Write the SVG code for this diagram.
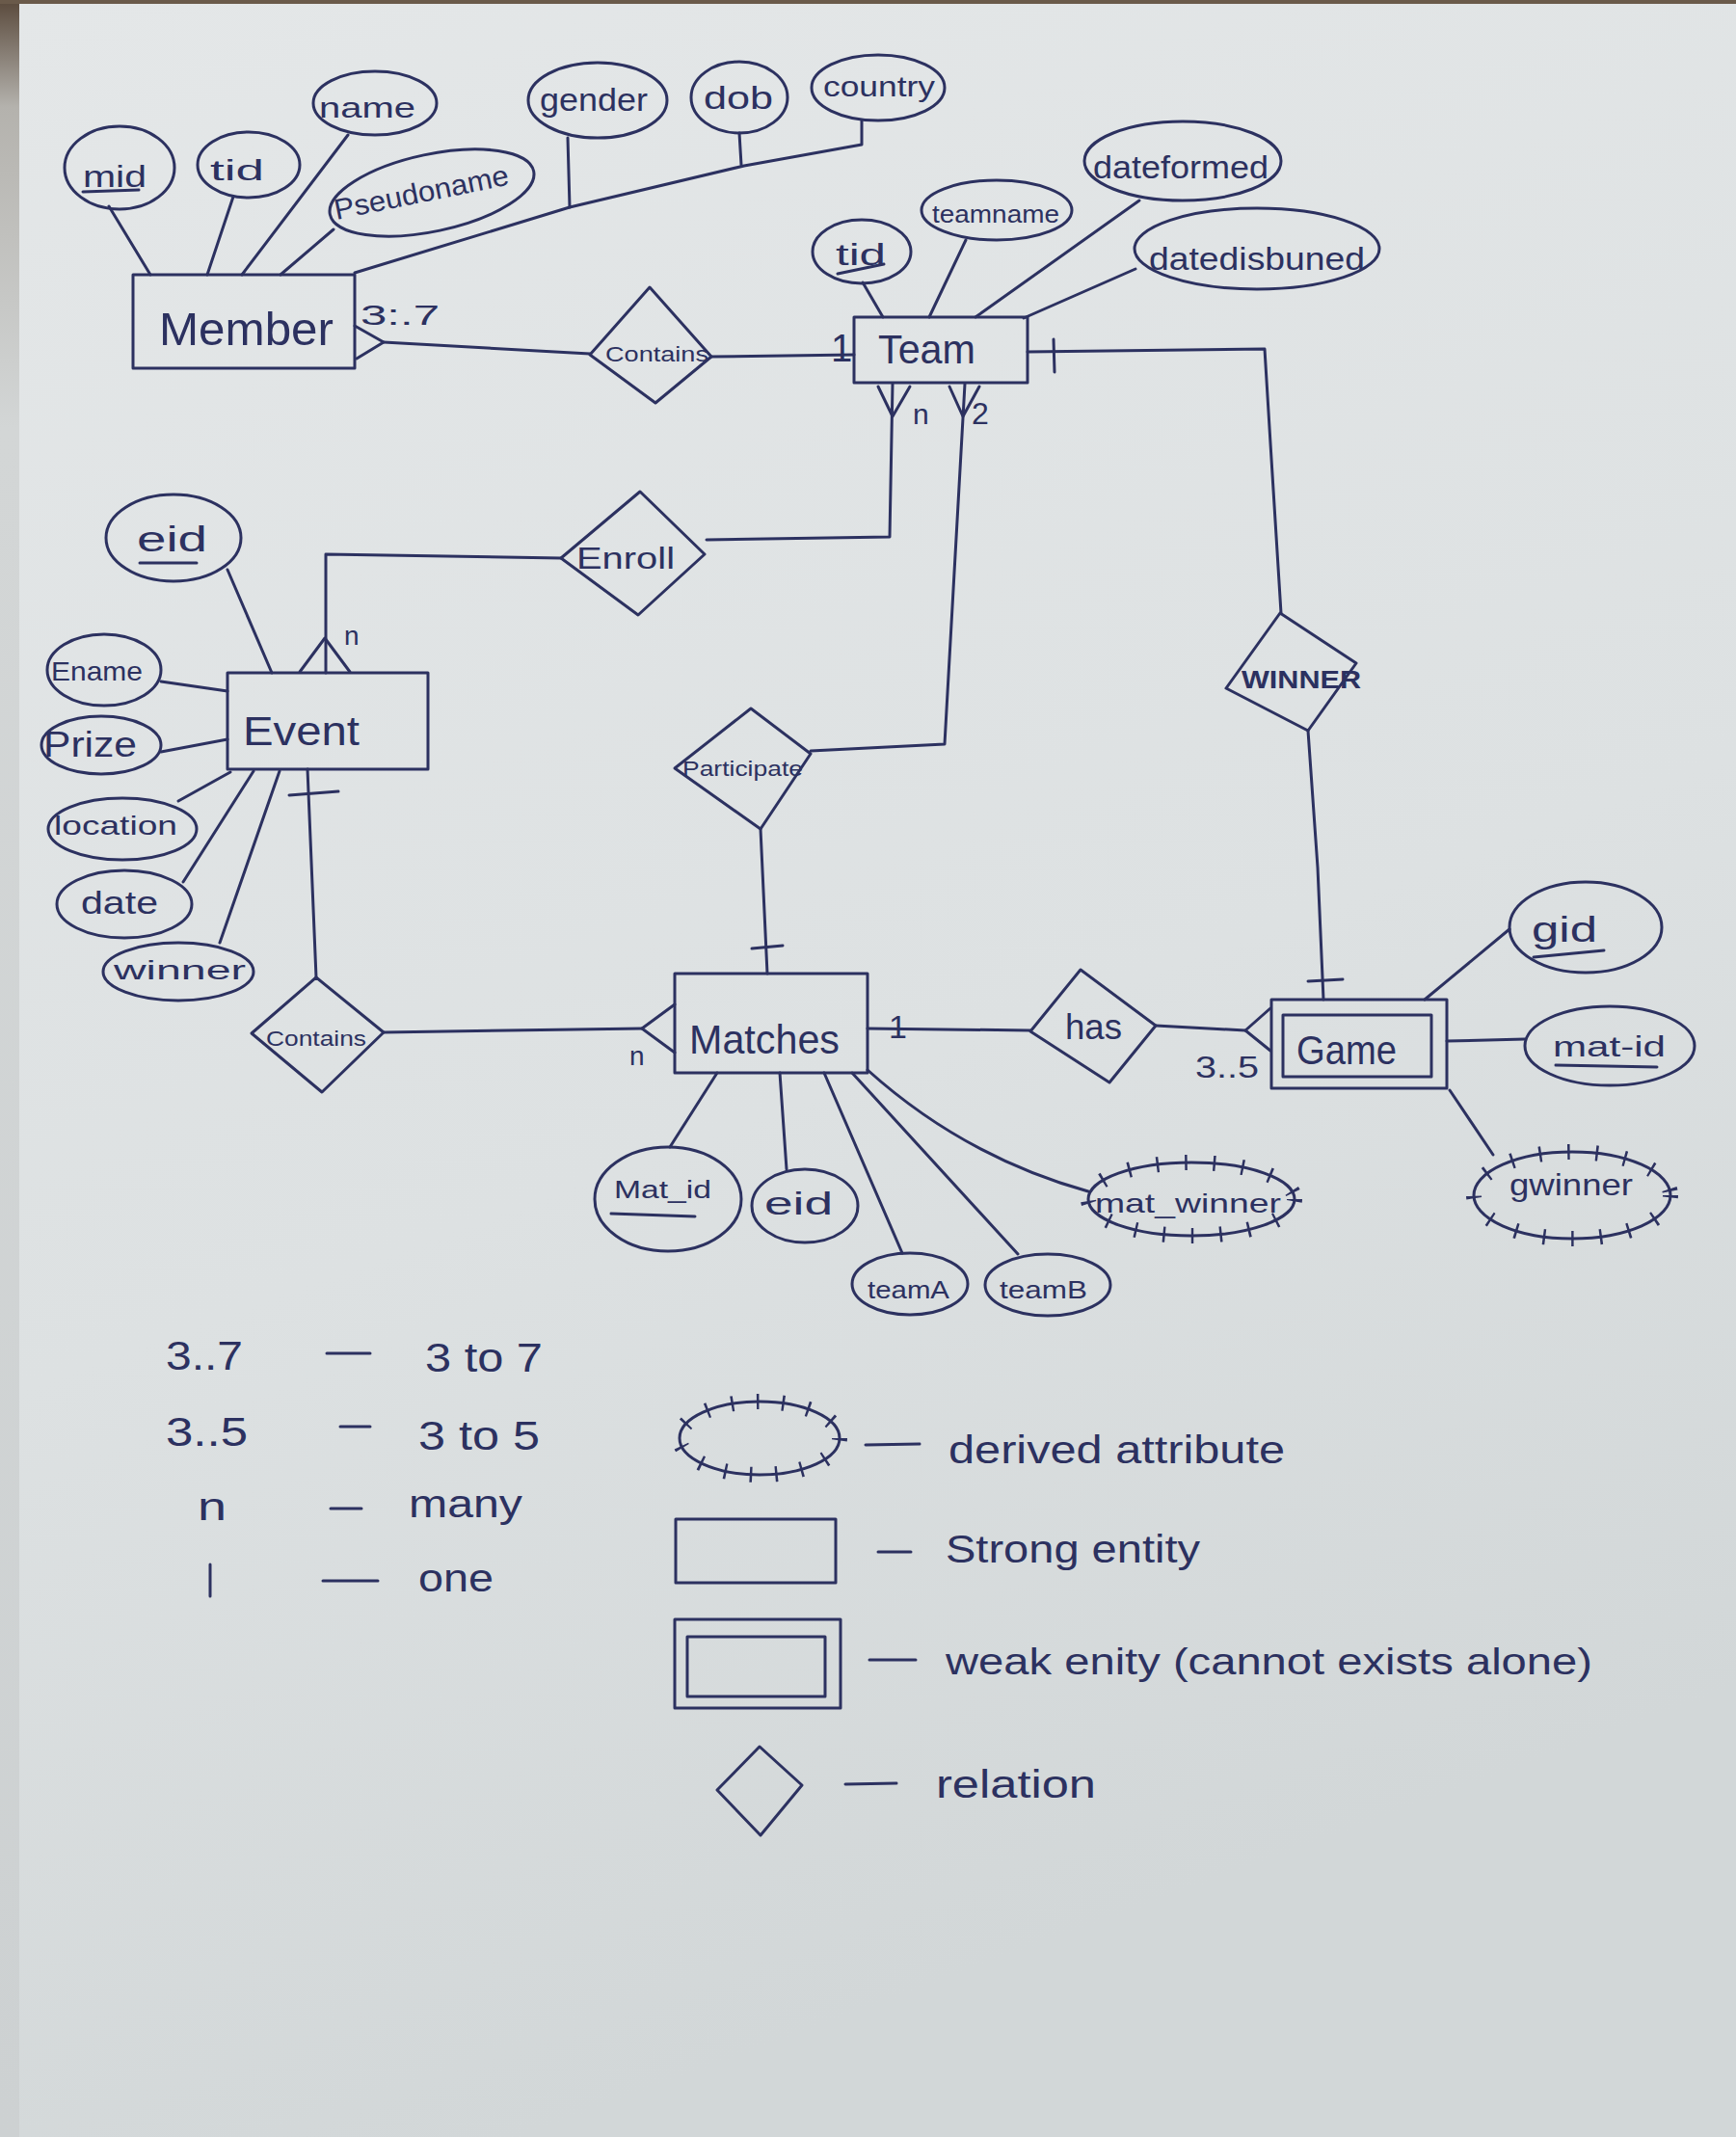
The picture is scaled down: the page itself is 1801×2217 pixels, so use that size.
<svg xmlns="http://www.w3.org/2000/svg" width="1801" height="2217" viewBox="0 0 1801 2217">
<defs>
<linearGradient id="paper" x1="0" y1="0" x2="0.3" y2="1"><stop offset="0" stop-color="#e4e7e8"/><stop offset="0.6" stop-color="#dde1e2"/><stop offset="1" stop-color="#d2d7d8"/></linearGradient>
<linearGradient id="edge" x1="0" y1="0" x2="0" y2="1"><stop offset="0" stop-color="#5a4a3c"/><stop offset="0.05" stop-color="#b4b2ad"/><stop offset="0.2" stop-color="#d3d6d6"/><stop offset="1" stop-color="#cdd1d2"/></linearGradient>
</defs>
<style>
.s{fill:none;stroke:#2c3160;stroke-width:3;stroke-linecap:round;stroke-linejoin:round}
.t{fill:#2c3160;font-family:"Liberation Sans",Arial,sans-serif}
.tk{fill:none;stroke:#2c3160;stroke-width:16;stroke-dasharray:2.5 27}
.tk2{fill:none;stroke:#2c3160;stroke-width:16;stroke-dasharray:2.5 24}
</style>
<rect x="0" y="0" width="1801" height="2217" fill="url(#paper)"/>
<rect x="0" y="0" width="20" height="2217" fill="url(#edge)"/>
<rect x="0" y="0" width="1801" height="4" fill="#6a5a4a"/>

<g id="connectors">
<path class="s" d="M113,214 L156,285"/>
<path class="s" d="M242,204 L215,285"/>
<path class="s" d="M361,140 L251,285"/>
<path class="s" d="M346,238 L291,285"/>
<path class="s" d="M368,283 L591,215 L772,172 L894,150 L894,125"/>
<path class="s" d="M591,215 L589,143"/>
<path class="s" d="M769,171 L767,138"/>
<path class="s" d="M368,338 L398,355 L370,372"/>
<path class="s" d="M398,355 L612,367"/>
<path class="s" d="M738,370 L886,368"/>
<path class="s" d="M895,293 L916,329"/>
<path class="s" d="M1002,249 L964,329"/>
<path class="s" d="M1182,208 L1012,329"/>
<path class="s" d="M1178,279 L1062,330"/>
<path class="s" d="M926,398 L923,557 L733,560"/>
<path class="s" d="M911,401 L926,432 L944,401"/>
<path class="s" d="M1001,398 L980,772 L841,779"/>
<path class="s" d="M985,401 L999,432 L1016,401"/>
<path class="s" d="M1066,365 L1312,362 L1318,460 L1329,636"/>
<path class="s" d="M1093,352 L1094,386"/>
<path class="s" d="M582,579 L338,575 L338,698"/>
<path class="s" d="M311,697 L337,662 L363,697"/>
<path class="s" d="M236,591 L282,698"/>
<path class="s" d="M167,707 L236,717"/>
<path class="s" d="M167,780 L236,767"/>
<path class="s" d="M185,831 L239,801"/>
<path class="s" d="M190,915 L263,800"/>
<path class="s" d="M228,978 L290,800"/>
<path class="s" d="M319,798 L328,1014"/>
<path class="s" d="M300,825 L351,821"/>
<path class="s" d="M398,1071 L666,1067"/>
<path class="s" d="M700,1042 L666,1067 L700,1092"/>
<path class="s" d="M789,860 L796,1010"/>
<path class="s" d="M780,984 L812,981"/>
<path class="s" d="M744,1113 L695,1190"/>
<path class="s" d="M809,1113 L816,1213"/>
<path class="s" d="M855,1113 L936,1300"/>
<path class="s" d="M884,1113 L1056,1301"/>
<path class="s" d="M900,1110 Q1000,1200 1129,1236"/>
<path class="s" d="M900,1067 L1069,1069"/>
<path class="s" d="M1199,1064 L1292,1069"/>
<path class="s" d="M1318,1046 L1292,1069 L1318,1090"/>
<path class="s" d="M1357,758 L1367,900 L1373,1037"/>
<path class="s" d="M1357,1018 L1393,1016"/>
<path class="s" d="M1566,964 L1478,1037"/>
<path class="s" d="M1501,1080 L1582,1078"/>
<path class="s" d="M1504,1131 L1549,1198"/>
<text class="t" x="374" y="337" font-size="30" textLength="82" lengthAdjust="spacingAndGlyphs">3:.7</text>
<text class="t" x="862" y="375" font-size="40">1</text>
<text class="t" x="947" y="440" font-size="30">n</text>
<text class="t" x="1008" y="440" font-size="32">2</text>
<text class="t" x="357" y="669" font-size="28">n</text>
<text class="t" x="653" y="1105" font-size="28">n</text>
<text class="t" x="922" y="1077" font-size="34">1</text>
<text class="t" x="1240" y="1118" font-size="32" textLength="66" lengthAdjust="spacingAndGlyphs">3..5</text>
</g>

<g id="member">
<rect class="s" x="138" y="285" width="230" height="97"/>
<text class="t" x="165" y="358" font-size="48" textLength="181" lengthAdjust="spacingAndGlyphs">Member</text>
</g>
<g id="member-mid">
<ellipse class="s" cx="124" cy="174" rx="57" ry="43"/>
<text class="t" x="86" y="194" font-size="32" textLength="66" lengthAdjust="spacingAndGlyphs">mid</text>
<path class="s" d="M86,199 L144,197"/>
</g>
<g id="member-tid">
<ellipse class="s" cx="258" cy="171" rx="53" ry="34"/>
<text class="t" x="218" y="187" font-size="30" textLength="56" lengthAdjust="spacingAndGlyphs">tid</text>
</g>
<g id="member-name">
<ellipse class="s" cx="389" cy="107" rx="64" ry="33"/>
<text class="t" x="331" y="122" font-size="30" textLength="100" lengthAdjust="spacingAndGlyphs">name</text>
</g>
<g id="member-pseudoname">
<ellipse class="s" cx="448" cy="200" rx="108" ry="40" transform="rotate(-12 448 200)"/>
<text class="t" x="349" y="228" font-size="30" textLength="184" lengthAdjust="spacingAndGlyphs" transform="rotate(-11.5 349 228)">Pseudoname</text>
</g>
<g id="member-gender">
<ellipse class="s" cx="620" cy="104" rx="72" ry="39"/>
<text class="t" x="560" y="115" font-size="34" textLength="112" lengthAdjust="spacingAndGlyphs">gender</text>
</g>
<g id="member-dob">
<ellipse class="s" cx="767" cy="101" rx="50" ry="37"/>
<text class="t" x="730" y="113" font-size="34" textLength="72" lengthAdjust="spacingAndGlyphs">dob</text>
</g>
<g id="member-country">
<ellipse class="s" cx="911" cy="91" rx="69" ry="34"/>
<text class="t" x="854" y="100" font-size="30" textLength="116" lengthAdjust="spacingAndGlyphs">country</text>
</g>

<g id="contains-team">
<polygon class="s" points="674,298 738,370 680,418 612,368"/>
<text class="t" x="628" y="375" font-size="22" textLength="107" lengthAdjust="spacingAndGlyphs">Contains</text>
</g>

<g id="team">
<rect class="s" x="886" y="329" width="180" height="68"/>
<text class="t" x="911" y="377" font-size="42" textLength="101" lengthAdjust="spacingAndGlyphs">Team</text>
</g>
<g id="team-tid">
<ellipse class="s" cx="894" cy="261" rx="51" ry="33"/>
<text class="t" x="867" y="275" font-size="32" textLength="52" lengthAdjust="spacingAndGlyphs">tid</text>
<path class="s" d="M869,284 L917,274"/>
</g>
<g id="team-teamname">
<ellipse class="s" cx="1034" cy="218" rx="78" ry="31"/>
<text class="t" x="967" y="231" font-size="26" textLength="132" lengthAdjust="spacingAndGlyphs">teamname</text>
</g>
<g id="team-dateformed">
<ellipse class="s" cx="1227" cy="167" rx="102" ry="41"/>
<text class="t" x="1134" y="185" font-size="34" textLength="182" lengthAdjust="spacingAndGlyphs">dateformed</text>
</g>
<g id="team-datedisbuned">
<ellipse class="s" cx="1304" cy="258" rx="127" ry="42"/>
<text class="t" x="1192" y="280" font-size="34" textLength="224" lengthAdjust="spacingAndGlyphs">datedisbuned</text>
</g>

<g id="enroll">
<polygon class="s" points="664,510 731,575 662,638 582,579"/>
<text class="t" x="598" y="590" font-size="32" textLength="102" lengthAdjust="spacingAndGlyphs">Enroll</text>
</g>

<g id="event">
<rect class="s" x="236" y="698" width="208" height="100"/>
<text class="t" x="252" y="773" font-size="42" textLength="121" lengthAdjust="spacingAndGlyphs">Event</text>
</g>
<g id="event-eid">
<ellipse class="s" cx="180" cy="558" rx="70" ry="45"/>
<text class="t" x="142" y="572" font-size="36" textLength="73" lengthAdjust="spacingAndGlyphs">eid</text>
<path class="s" d="M145,584 L204,584"/>
</g>
<g id="event-ename">
<ellipse class="s" cx="108" cy="695" rx="59" ry="37"/>
<text class="t" x="53" y="706" font-size="28" textLength="95" lengthAdjust="spacingAndGlyphs">Ename</text>
</g>
<g id="event-prize">
<ellipse class="s" cx="105" cy="773" rx="62" ry="30"/>
<text class="t" x="45" y="785" font-size="36" textLength="97" lengthAdjust="spacingAndGlyphs">Prize</text>
</g>
<g id="event-location">
<ellipse class="s" cx="127" cy="860" rx="77" ry="32"/>
<text class="t" x="56" y="866" font-size="28" textLength="128" lengthAdjust="spacingAndGlyphs">location</text>
</g>
<g id="event-date">
<ellipse class="s" cx="129" cy="938" rx="70" ry="35"/>
<text class="t" x="84" y="948" font-size="34" textLength="80" lengthAdjust="spacingAndGlyphs">date</text>
</g>
<g id="event-winner">
<ellipse class="s" cx="185" cy="1008" rx="78" ry="30"/>
<text class="t" x="118" y="1016" font-size="28" textLength="137" lengthAdjust="spacingAndGlyphs">winner</text>
</g>

<g id="contains-event">
<polygon class="s" points="328,1014 398,1071 334,1133 261,1072"/>
<text class="t" x="276" y="1085" font-size="22" textLength="104" lengthAdjust="spacingAndGlyphs">Contains</text>
</g>

<g id="participate">
<polygon class="s" points="779,735 841,782 789,860 700,797"/>
<text class="t" x="708" y="805" font-size="22" textLength="125" lengthAdjust="spacingAndGlyphs">Participate</text>
</g>

<g id="matches">
<rect class="s" x="700" y="1010" width="200" height="103"/>
<text class="t" x="715" y="1093" font-size="42" textLength="156" lengthAdjust="spacingAndGlyphs">Matches</text>
</g>
<g id="matches-matid">
<ellipse class="s" cx="693" cy="1244" rx="76" ry="54"/>
<text class="t" x="637" y="1243" font-size="26" textLength="101" lengthAdjust="spacingAndGlyphs">Mat_id</text>
<path class="s" d="M634,1259 L721,1262"/>
</g>
<g id="matches-eid">
<ellipse class="s" cx="835" cy="1251" rx="55" ry="38"/>
<text class="t" x="793" y="1260" font-size="34" textLength="71" lengthAdjust="spacingAndGlyphs">eid</text>
</g>
<g id="matches-teama">
<ellipse class="s" cx="944" cy="1332" rx="60" ry="32"/>
<text class="t" x="900" y="1347" font-size="26" textLength="85" lengthAdjust="spacingAndGlyphs">teamA</text>
</g>
<g id="matches-teamb">
<ellipse class="s" cx="1087" cy="1333" rx="65" ry="32"/>
<text class="t" x="1037" y="1347" font-size="26" textLength="91" lengthAdjust="spacingAndGlyphs">teamB</text>
</g>
<g id="matches-matwinner">
<ellipse class="s" cx="1236" cy="1244" rx="107" ry="38"/>
<ellipse class="tk" cx="1236" cy="1244" rx="107" ry="38"/>
<text class="t" x="1136" y="1258" font-size="28" textLength="193" lengthAdjust="spacingAndGlyphs">mat_winner</text>
</g>

<g id="has">
<polygon class="s" points="1121,1006 1199,1064 1151,1123 1069,1070"/>
<text class="t" x="1105" y="1078" font-size="36" textLength="59" lengthAdjust="spacingAndGlyphs">has</text>
</g>

<g id="winner-rel">
<polygon class="s" points="1328,636 1407,688 1357,758 1272,714"/>
<text class="t" x="1288" y="714" font-size="26" font-weight="bold" textLength="124" lengthAdjust="spacingAndGlyphs">WINNER</text>
</g>

<g id="game">
<rect class="s" x="1319" y="1037" width="182" height="92"/>
<rect class="s" x="1331" y="1053" width="154" height="64"/>
<text class="t" x="1345" y="1104" font-size="42" textLength="104" lengthAdjust="spacingAndGlyphs">Game</text>
</g>
<g id="game-gid">
<ellipse class="s" cx="1645" cy="962" rx="79" ry="47"/>
<text class="t" x="1589" y="977" font-size="36" textLength="68" lengthAdjust="spacingAndGlyphs">gid</text>
<path class="s" d="M1591,993 L1664,986"/>
</g>
<g id="game-matid">
<ellipse class="s" cx="1670" cy="1085" rx="88" ry="41"/>
<text class="t" x="1611" y="1096" font-size="30" textLength="117" lengthAdjust="spacingAndGlyphs">mat-id</text>
<path class="s" d="M1614,1105 L1719,1107"/>
</g>
<g id="game-gwinner">
<ellipse class="s" cx="1631" cy="1240" rx="102" ry="45"/>
<ellipse class="tk" cx="1631" cy="1240" rx="102" ry="45"/>
<text class="t" x="1566" y="1240" font-size="32" textLength="128" lengthAdjust="spacingAndGlyphs">gwinner</text>
</g>

<g id="legend">
<text class="t" x="172" y="1421" font-size="42" textLength="80" lengthAdjust="spacingAndGlyphs">3..7</text>
<path class="s" d="M339,1404 L384,1404"/>
<text class="t" x="441" y="1423" font-size="42" textLength="122" lengthAdjust="spacingAndGlyphs">3 to 7</text>
<text class="t" x="172" y="1500" font-size="42" textLength="85" lengthAdjust="spacingAndGlyphs">3..5</text>
<path class="s" d="M353,1480 L384,1480"/>
<text class="t" x="434" y="1504" font-size="42" textLength="126" lengthAdjust="spacingAndGlyphs">3 to 5</text>
<text class="t" x="205" y="1577" font-size="40" textLength="30" lengthAdjust="spacingAndGlyphs">n</text>
<path class="s" d="M343,1565 L375,1565"/>
<text class="t" x="424" y="1574" font-size="40" textLength="118" lengthAdjust="spacingAndGlyphs">many</text>
<path class="s" d="M218,1623 L218,1656"/>
<path class="s" d="M335,1640 L392,1640"/>
<text class="t" x="434" y="1651" font-size="40" textLength="78" lengthAdjust="spacingAndGlyphs">one</text>

<ellipse class="s" cx="788" cy="1492" rx="83" ry="38"/>
<ellipse class="tk2" cx="788" cy="1492" rx="83" ry="38"/>
<path class="s" d="M898,1499 L954,1498"/>
<text class="t" x="984" y="1518" font-size="40" textLength="349" lengthAdjust="spacingAndGlyphs">derived attribute</text>

<rect class="s" x="701" y="1576" width="166" height="66"/>
<path class="s" d="M911,1610 L945,1610"/>
<text class="t" x="981" y="1621" font-size="40" textLength="264" lengthAdjust="spacingAndGlyphs">Strong entity</text>

<rect class="s" x="700" y="1680" width="172" height="92"/>
<rect class="s" x="713" y="1698" width="143" height="62"/>
<path class="s" d="M902,1722 L950,1722"/>
<text class="t" x="981" y="1737" font-size="38" textLength="671" lengthAdjust="spacingAndGlyphs">weak enity (cannot exists alone)</text>

<polygon class="s" points="788,1812 832,1852 789,1904 744,1857"/>
<path class="s" d="M877,1851 L930,1850"/>
<text class="t" x="971" y="1865" font-size="40" textLength="166" lengthAdjust="spacingAndGlyphs">relation</text>
</g>
</svg>
